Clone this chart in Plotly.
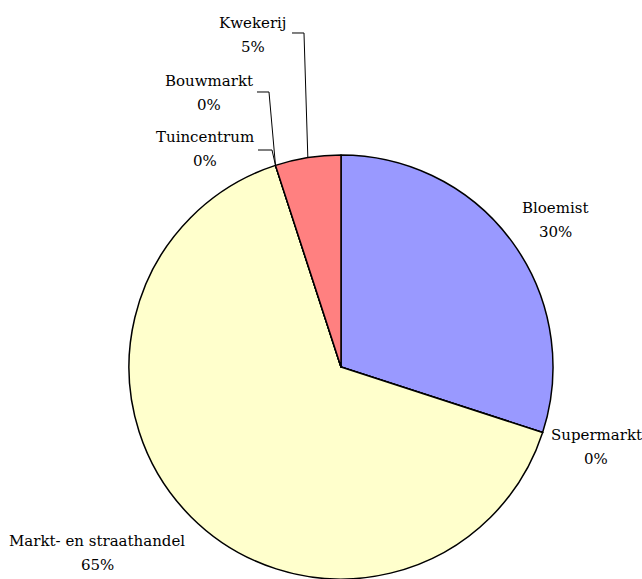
import math
import plotly.graph_objects as go

# Verkoopkanalen (aandeel in %)
channels = ["Bloemist", "Supermarkt", "Markt- en straathandel", "Tuincentrum", "Bouwmarkt", "Kwekerij"]
shares = [30, 0, 65, 0, 0, 5]
colors = ["#9999FF", "#FFFFCC", "#FFFFCC", "#FFFFCC", "#FFFFCC", "#FF8080"]

W, H = 642, 579
CX, CY, R = 341, 367, 212          # pie centre and radius in pixels
LINE_GAP = 24                      # distance between name and percentage line

# label anchor (centre x, first line y) and optional elbow (start x, y, bend x) for the leader line
label_pos = {
    "Bloemist": (555, 208, None),
    "Supermarkt": (596, 435, None),
    "Markt- en straathandel": (97, 541, None),
    "Tuincentrum": (205, 137, (258, 150, 272)),
    "Bouwmarkt": (209, 81, (257, 92, 269)),
    "Kwekerij": (253, 23, (292, 33, 304)),
}

FONT = dict(family="DejaVu Serif", size=15, color="black")


def px(x, y):
    return x / W, 1 - y / H


fig = go.Figure(go.Pie(
    labels=channels,
    values=shares,
    sort=False,
    direction="clockwise",
    rotation=0,
    textinfo="none",
    hoverinfo="label+percent",
    marker=dict(colors=colors, line=dict(color="black", width=1.5)),
    domain=dict(x=[(CX - R) / W, (CX + R) / W], y=[0, (H - (CY - R)) / H]),
    showlegend=False,
))

total = sum(shares)
annotations, shapes = [], []
cum = 0.0
for name, val in zip(channels, shares):
    mid = (cum + val / 2) / total * 2 * math.pi
    cum += val
    lx, ly, elbow = label_pos[name]
    pct = f"{round(100 * val / total)}%"
    for i, txt in enumerate([name, pct]):
        ax, ay = px(lx, ly + LINE_GAP * i)
        annotations.append(dict(x=ax, y=ay, xref="paper", yref="paper", text=txt,
                                showarrow=False, font=FONT, xanchor="center", yanchor="middle"))
    if elbow:
        ex, ey, kx = elbow
        edge_x = CX + R * math.sin(mid)
        edge_y = CY - R * math.cos(mid)
        pts = [px(ex, ey), px(kx, ey), px(edge_x, edge_y)]
        path = "M " + " L ".join(f"{a:.5f},{b:.5f}" for a, b in pts)
        shapes.append(dict(type="path", path=path, xref="paper", yref="paper",
                           line=dict(color="black", width=1)))

fig.update_layout(
    width=W, height=H,
    margin=dict(l=0, r=0, t=0, b=0),
    paper_bgcolor="white",
    plot_bgcolor="white",
    annotations=annotations,
    shapes=shapes,
)

fig.write_html("out.html")
